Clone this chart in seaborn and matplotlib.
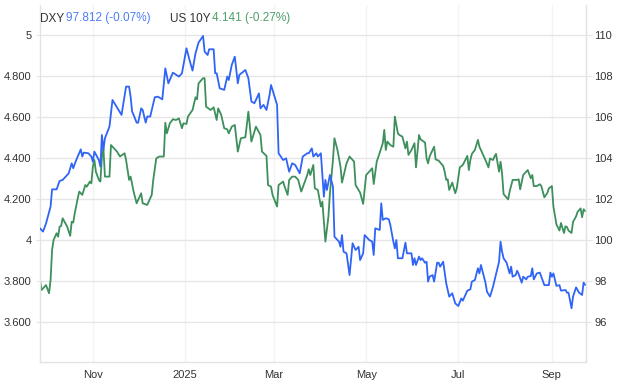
import matplotlib
matplotlib.use("Agg")
import matplotlib.pyplot as plt
import seaborn as sns
import pandas as pd

# DXY daily closes (right axis)
dxy_dates = [
    "2024-09-27", "2024-09-29", "2024-10-01", "2024-10-04", "2024-10-05", "2024-10-08", "2024-10-10", "2024-10-12", "2024-10-16",
    "2024-10-18", "2024-10-19", "2024-10-21", "2024-10-24", "2024-10-25", "2024-10-26", "2024-10-29", "2024-10-31",
    "2024-11-01", "2024-11-02", "2024-11-05", "2024-11-06", "2024-11-07", "2024-11-08", "2024-11-09", "2024-11-12", "2024-11-14",
    "2024-11-17", "2024-11-20", "2024-11-23", "2024-11-25", "2024-11-26", "2024-11-27", "2024-11-28", "2024-11-30",
    "2024-12-01", "2024-12-03", "2024-12-04", "2024-12-06", "2024-12-07", "2024-12-09", "2024-12-12", "2024-12-14", "2024-12-17",
    "2024-12-19", "2024-12-21", "2024-12-24", "2024-12-28", "2024-12-30",
    "2025-01-02", "2025-01-04", "2025-01-06", "2025-01-08", "2025-01-10", "2025-01-13", "2025-01-14", "2025-01-16", "2025-01-17",
    "2025-01-20", "2025-01-21", "2025-01-22", "2025-01-24", "2025-01-27", "2025-01-29", "2025-01-30",
    "2025-02-01", "2025-02-03", "2025-02-05", "2025-02-06", "2025-02-10", "2025-02-12", "2025-02-14", "2025-02-16", "2025-02-19",
    "2025-02-20", "2025-02-22", "2025-02-24", "2025-02-26", "2025-02-27",
    "2025-03-01", "2025-03-03", "2025-03-04", "2025-03-07", "2025-03-09", "2025-03-11", "2025-03-13", "2025-03-15", "2025-03-18",
    "2025-03-20", "2025-03-23", "2025-03-24", "2025-03-26", "2025-03-27", "2025-03-29", "2025-03-30",
    "2025-04-01", "2025-04-03", "2025-04-04", "2025-04-05", "2025-04-07", "2025-04-09", "2025-04-10", "2025-04-13", "2025-04-14",
    "2025-04-15", "2025-04-16", "2025-04-18", "2025-04-20", "2025-04-22", "2025-04-24", "2025-04-26", "2025-04-27", "2025-04-29",
    "2025-04-30",
    "2025-05-03", "2025-05-05", "2025-05-06", "2025-05-07", "2025-05-10", "2025-05-11", "2025-05-12", "2025-05-14", "2025-05-16",
    "2025-05-17", "2025-05-19", "2025-05-20", "2025-05-21", "2025-05-22", "2025-05-25", "2025-05-27", "2025-05-28", "2025-05-31",
    "2025-06-01", "2025-06-02", "2025-06-03", "2025-06-05", "2025-06-06", "2025-06-07", "2025-06-09", "2025-06-10", "2025-06-11",
    "2025-06-12", "2025-06-14", "2025-06-15", "2025-06-17", "2025-06-18", "2025-06-19", "2025-06-21", "2025-06-23", "2025-06-25",
    "2025-06-27", "2025-06-29",
    "2025-07-01", "2025-07-03", "2025-07-04", "2025-07-07", "2025-07-09", "2025-07-10", "2025-07-12", "2025-07-14", "2025-07-15",
    "2025-07-16", "2025-07-18", "2025-07-19", "2025-07-20", "2025-07-22", "2025-07-24", "2025-07-28", "2025-07-29", "2025-07-30",
    "2025-07-31",
    "2025-08-02", "2025-08-04", "2025-08-05", "2025-08-06", "2025-08-08", "2025-08-09", "2025-08-10", "2025-08-12", "2025-08-13",
    "2025-08-15", "2025-08-16", "2025-08-18", "2025-08-19", "2025-08-20", "2025-08-22", "2025-08-24", "2025-08-25", "2025-08-27",
    "2025-08-30", "2025-08-31",
    "2025-09-01", "2025-09-02", "2025-09-04", "2025-09-06", "2025-09-07", "2025-09-10", "2025-09-11", "2025-09-12", "2025-09-14",
    "2025-09-15", "2025-09-17", "2025-09-19", "2025-09-21", "2025-09-22", "2025-09-23",
]
dxy_values = [
    100.57, 100.41, 100.81, 101.63, 102.47, 102.47, 102.88, 102.93, 103.25, 103.74, 103.50, 103.90, 104.42, 104.07, 104.26, 104.23, 104.07,
    103.82, 104.31, 103.90, 103.58, 105.12, 104.39, 104.96, 105.53, 106.83, 106.47, 106.10, 107.48, 107.48, 106.99, 106.26, 106.10, 105.72,
    105.72, 106.42, 106.34, 105.72, 106.02, 106.02, 106.96, 106.99, 106.86, 108.37, 107.64, 108.16, 107.97, 108.13,
    109.35, 108.78, 108.26, 109.11, 109.63, 109.95, 109.19, 109.02, 109.30, 109.30, 108.13, 108.13, 107.40, 107.32, 107.97, 107.80,
    108.54, 108.94, 107.64, 108.05, 108.29, 107.89, 106.75, 106.67, 107.15, 106.42, 106.59, 106.34, 107.07, 107.56,
    107.07, 106.59, 104.23, 103.90, 103.98, 103.33, 103.74, 103.66, 103.25, 104.07, 104.23, 104.23, 104.47, 104.07, 104.23, 104.07,
    104.23, 102.11, 102.93, 102.44, 103.17, 102.60, 100.16, 99.92, 99.67, 100.24, 99.43, 99.35, 98.29, 99.84, 99.51, 99.67, 99.02, 99.35,
    100.24,
    100.00, 99.92, 99.27, 100.57, 100.49, 101.79, 100.98, 101.06, 101.01, 100.73, 99.92, 99.59, 100.00, 99.11, 99.11, 99.87, 99.35, 99.35,
    98.78, 99.11, 98.78, 99.19, 99.02, 99.11, 98.89, 98.94, 97.97, 98.21, 98.29, 97.97, 98.89, 98.89, 98.70, 98.94, 97.89, 97.24,
    97.40, 96.91,
    96.78, 97.15, 97.04, 97.53, 97.59, 97.97, 98.05, 98.62, 98.37, 98.78, 98.21, 97.92, 97.48, 97.24, 97.72, 98.94, 99.92, 99.43, 99.11,
    98.89, 98.37, 98.70, 98.21, 98.29, 98.50, 98.34, 97.92, 98.21, 98.08, 98.21, 98.24, 98.62, 98.08, 98.37, 98.41, 98.21, 97.80,
    97.80, 98.41,
    98.21, 98.37, 97.76, 97.80, 97.53, 97.56, 97.43, 97.43, 96.67, 97.24, 97.69, 97.43, 97.32, 97.92, 97.81,
]

# US 10Y yield (left axis)
us10y_dates = [
    "2024-09-27", "2024-09-28", "2024-09-30", "2024-10-01", "2024-10-03", "2024-10-04", "2024-10-05", "2024-10-06", "2024-10-08",
    "2024-10-09", "2024-10-10", "2024-10-11", "2024-10-12", "2024-10-15", "2024-10-17", "2024-10-18", "2024-10-19", "2024-10-20",
    "2024-10-22", "2024-10-23", "2024-10-25", "2024-10-27", "2024-10-28", "2024-10-30", "2024-10-31",
    "2024-11-01", "2024-11-02", "2024-11-03", "2024-11-05", "2024-11-06", "2024-11-07", "2024-11-08", "2024-11-09", "2024-11-12",
    "2024-11-13", "2024-11-15", "2024-11-17", "2024-11-19", "2024-11-22", "2024-11-23", "2024-11-25", "2024-11-26", "2024-11-28",
    "2024-11-30",
    "2024-12-01", "2024-12-03", "2024-12-04", "2024-12-07", "2024-12-08", "2024-12-10", "2024-12-11", "2024-12-13", "2024-12-15",
    "2024-12-18", "2024-12-19", "2024-12-20", "2024-12-22", "2024-12-24", "2024-12-26", "2024-12-28", "2024-12-30", "2024-12-31",
    "2025-01-02", "2025-01-03", "2025-01-06", "2025-01-08", "2025-01-09", "2025-01-10", "2025-01-13", "2025-01-14", "2025-01-15",
    "2025-01-18", "2025-01-20", "2025-01-22", "2025-01-23", "2025-01-25", "2025-01-27", "2025-01-29", "2025-01-30",
    "2025-02-01", "2025-02-03", "2025-02-05", "2025-02-07", "2025-02-10", "2025-02-12", "2025-02-14", "2025-02-17", "2025-02-20",
    "2025-02-21", "2025-02-24", "2025-02-25", "2025-02-27", "2025-02-28",
    "2025-03-03", "2025-03-04", "2025-03-07", "2025-03-08", "2025-03-10", "2025-03-11", "2025-03-13", "2025-03-15", "2025-03-17",
    "2025-03-19", "2025-03-21", "2025-03-23", "2025-03-24", "2025-03-25", "2025-03-27", "2025-03-28", "2025-03-30",
    "2025-04-01", "2025-04-02", "2025-04-04", "2025-04-06", "2025-04-07", "2025-04-09", "2025-04-10", "2025-04-12", "2025-04-14",
    "2025-04-15", "2025-04-18", "2025-04-20", "2025-04-23", "2025-04-24", "2025-04-27", "2025-04-29",
    "2025-05-01", "2025-05-04", "2025-05-05", "2025-05-06", "2025-05-08", "2025-05-10", "2025-05-12", "2025-05-13", "2025-05-14",
    "2025-05-15", "2025-05-17", "2025-05-19", "2025-05-20", "2025-05-22", "2025-05-23", "2025-05-25", "2025-05-27", "2025-05-28",
    "2025-05-29", "2025-05-31",
    "2025-06-02", "2025-06-03", "2025-06-05", "2025-06-06", "2025-06-09", "2025-06-10", "2025-06-11", "2025-06-12", "2025-06-14",
    "2025-06-15", "2025-06-16", "2025-06-18", "2025-06-21", "2025-06-22", "2025-06-23", "2025-06-24", "2025-06-25", "2025-06-27",
    "2025-06-29", "2025-06-30",
    "2025-07-02", "2025-07-04", "2025-07-07", "2025-07-08", "2025-07-09", "2025-07-10", "2025-07-12", "2025-07-14", "2025-07-15",
    "2025-07-16", "2025-07-18", "2025-07-19", "2025-07-21", "2025-07-22", "2025-07-24", "2025-07-25", "2025-07-26", "2025-07-28",
    "2025-07-29", "2025-07-30", "2025-07-31",
    "2025-08-03", "2025-08-04", "2025-08-06", "2025-08-09", "2025-08-10", "2025-08-11", "2025-08-13", "2025-08-15", "2025-08-16",
    "2025-08-18", "2025-08-19", "2025-08-20", "2025-08-22", "2025-08-24", "2025-08-25", "2025-08-27", "2025-08-29", "2025-08-30",
    "2025-09-01", "2025-09-02", "2025-09-04", "2025-09-06", "2025-09-07", "2025-09-09", "2025-09-10", "2025-09-11", "2025-09-12",
    "2025-09-14", "2025-09-15", "2025-09-17", "2025-09-18", "2025-09-20", "2025-09-21", "2025-09-22", "2025-09-23",
]
us10y_values = [
    3.805, 3.756, 3.772, 3.780, 3.740, 3.805, 3.951, 4.000, 4.033, 4.016, 4.065, 4.068, 4.106, 4.065, 4.020, 4.089, 4.085, 4.130,
    4.203, 4.236, 4.220, 4.268, 4.260, 4.285, 4.276,
    4.358, 4.390, 4.333, 4.293, 4.285, 4.407, 4.447, 4.309, 4.309, 4.463, 4.447, 4.431, 4.407, 4.423, 4.390, 4.293, 4.309, 4.236,
    4.179,
    4.195, 4.228, 4.179, 4.171, 4.187, 4.220, 4.293, 4.398, 4.407, 4.407, 4.572, 4.520, 4.569, 4.589, 4.585, 4.593, 4.545, 4.569,
    4.566, 4.602, 4.634, 4.696, 4.686, 4.764, 4.789, 4.789, 4.650, 4.634, 4.647, 4.585, 4.642, 4.610, 4.545, 4.540, 4.520,
    4.553, 4.561, 4.431, 4.496, 4.501, 4.626, 4.480, 4.553, 4.512, 4.431, 4.410, 4.268, 4.260, 4.220,
    4.163, 4.268, 4.285, 4.260, 4.220, 4.293, 4.309, 4.309, 4.293, 4.236, 4.276, 4.317, 4.345, 4.317, 4.366, 4.252, 4.244,
    4.163, 4.187, 3.992, 4.114, 4.228, 4.390, 4.496, 4.439, 4.358, 4.280, 4.374, 4.407, 4.382, 4.268, 4.231, 4.176,
    4.317, 4.341, 4.350, 4.273, 4.382, 4.426, 4.472, 4.537, 4.439, 4.480, 4.463, 4.455, 4.602, 4.520, 4.512, 4.504, 4.447, 4.480,
    4.415, 4.439,
    4.472, 4.354, 4.512, 4.491, 4.475, 4.398, 4.374, 4.407, 4.439, 4.455, 4.393, 4.387, 4.361, 4.333, 4.293, 4.296, 4.244, 4.280,
    4.228, 4.252,
    4.354, 4.366, 4.410, 4.341, 4.390, 4.420, 4.439, 4.488, 4.455, 4.439, 4.407, 4.390, 4.354, 4.398, 4.390, 4.407, 4.420, 4.333,
    4.382, 4.325, 4.224,
    4.198, 4.236, 4.293, 4.293, 4.296, 4.247, 4.317, 4.333, 4.341, 4.301, 4.317, 4.263, 4.263, 4.272, 4.263, 4.208, 4.230, 4.252,
    4.263, 4.163, 4.076, 4.046, 4.083, 4.034, 4.067, 4.063, 4.046, 4.034, 4.088, 4.115, 4.137, 4.154, 4.111, 4.150, 4.141,
]

left_ticks = [3.6, 3.8, 4.0, 4.2, 4.4, 4.6, 4.8, 5.0]
left_labels = ["3.600", "3.800", "4", "4.200", "4.400", "4.600", "4.800", "5"]
right_ticks = [96, 98, 100, 102, 104, 106, 108, 110]
month_ticks = ["2024-11-01", "2025-01-01", "2025-03-01", "2025-05-01", "2025-07-01", "2025-09-01"]
month_labels = ["Nov", "2025", "Mar", "May", "Jul", "Sep"]

blue = "#2f64f6"
green = "#3d8f5c"
grid_col = "#e6e6e6"
text_col = "#333333"

sns.set_style("white")
plt.rcParams["font.family"] = ["Liberation Sans", "DejaVu Sans"]

dxy = pd.DataFrame({"date": pd.to_datetime(dxy_dates), "value": dxy_values})
us10y = pd.DataFrame({"date": pd.to_datetime(us10y_dates), "value": us10y_values})

fig = plt.figure(figsize=(6.2, 3.88), dpi=100)
ax = fig.add_axes([40 / 620, 1 - 362 / 388, 546 / 620, 357 / 388])
ax2 = ax.twinx()

sns.lineplot(data=us10y, x="date", y="value", ax=ax, color=green, lw=1.3)
sns.lineplot(data=dxy, x="date", y="value", ax=ax2, color=blue, lw=1.3)

ax.set_xlim(pd.Timestamp("2024-09-27"), pd.Timestamp("2025-09-23 14:00"))
ax.set_ylim(3.405, 5.146)
ax2.set_ylim(94.05, 111.46)

ax.set_yticks(left_ticks)
ax.set_yticklabels(left_labels)
ax2.set_yticks(right_ticks)
ax2.set_yticklabels([str(t) for t in right_ticks])
ax.set_xticks(pd.to_datetime(month_ticks))
ax.set_xticklabels(month_labels)

ax.set_xlabel("")
ax.set_ylabel("")
ax2.set_ylabel("")

ax.set_axisbelow(True)
ax.grid(axis="y", color=grid_col, lw=1)
ax.grid(axis="x", color="#f3f3f3", lw=1)

for side in ["top"]:
    ax.spines[side].set_visible(False)
for side in ["left", "bottom", "right"]:
    ax.spines[side].set_color("#e3e3e3")
    ax.spines[side].set_linewidth(1)
for side in ["top", "left", "bottom"]:
    ax2.spines[side].set_visible(False)
ax2.spines["right"].set_color("#e3e3e3")

ax.tick_params(axis="y", length=3, color=grid_col, labelsize=8, labelcolor=text_col, pad=3)
ax.tick_params(axis="x", length=0, labelsize=8, labelcolor=text_col, pad=6)
ax2.tick_params(axis="y", length=4, color=grid_col, labelsize=8, labelcolor=text_col, pad=2)

# header legend
ty = 1 - 18.5 / 388
fig.text(40 / 620, ty, "DXY", color=text_col, fontsize=8.5, va="center")
fig.text(66 / 620, ty, "97.812 (-0.07%)", color="#4d7ef7", fontsize=8.5, va="center")
fig.text(170 / 620, ty, "US 10Y", color=text_col, fontsize=8.5, va="center")
fig.text(212 / 620, ty, "4.141 (-0.27%)", color="#4f9e6a", fontsize=8.5, va="center")

fig.savefig("out.png", dpi=100)
